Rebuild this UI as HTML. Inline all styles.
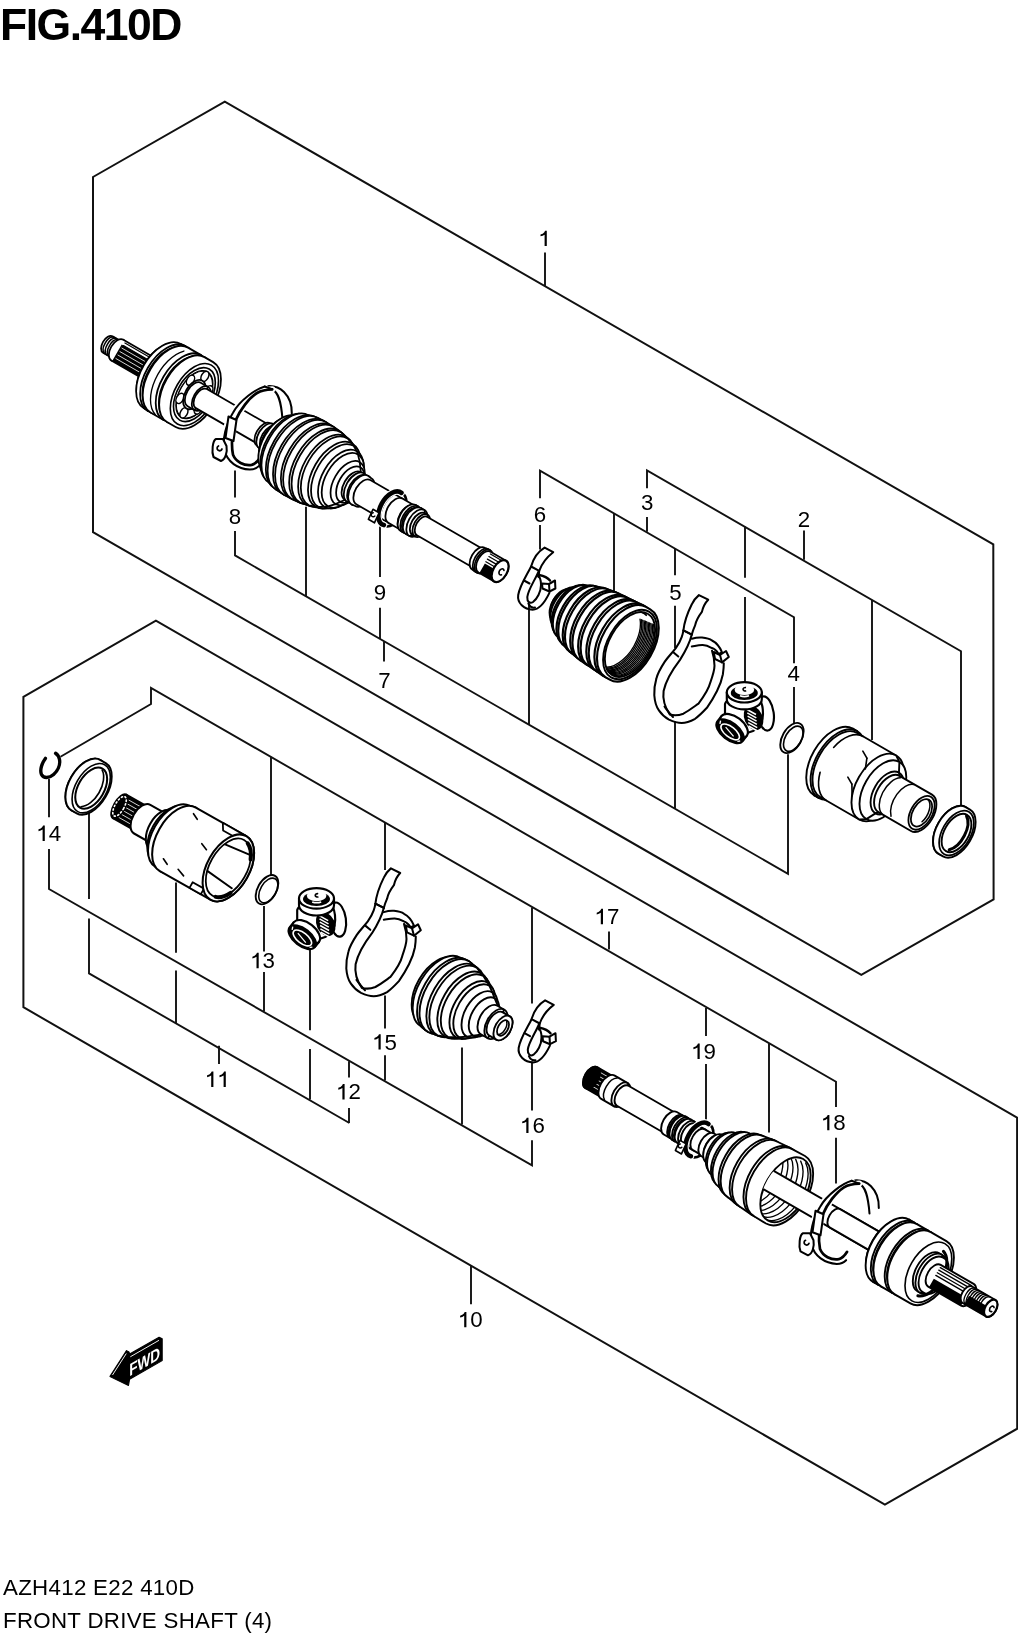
<!DOCTYPE html>
<html><head><meta charset="utf-8"><style>
html,body{margin:0;padding:0;background:#fff;}
body{width:1018px;height:1640px;overflow:hidden;position:relative;font-family:"Liberation Sans",sans-serif;}
svg{position:absolute;left:0;top:0;will-change:transform;}
.lb{font-family:"Liberation Sans",sans-serif;font-size:22.3px;text-anchor:middle;fill:#000;}
.ttl{will-change:transform;position:absolute;left:0px;top:3px;font-weight:bold;font-size:44.5px;line-height:1;letter-spacing:-1.5px;}
.ft{will-change:transform;position:absolute;left:3px;font-size:22.3px;line-height:1;letter-spacing:0.3px;}
</style></head><body>
<div class="ttl">FIG.410D</div>
<svg width="1018" height="1640" viewBox="0 0 1018 1640">
<polygon points="93.0,177.0 224.8,101.7 993.3,544.4 993.6,899.4 861.3,974.8 93.0,532.2" fill="none" stroke="#111" stroke-width="2.0" stroke-linejoin="miter"/>
<polygon points="23.4,696.8 155.9,620.6 1017.1,1117.6 1017.2,1428.7 884.9,1504.7 23.4,1007.2" fill="none" stroke="#111" stroke-width="2.0" stroke-linejoin="miter"/>
<polyline points="545.0,252.6 545.0,286.1" fill="none" stroke="#111" stroke-width="1.9"/>
<polyline points="540.0,498.3 540.0,470.7 794.0,617.3 794.0,663.3" fill="none" stroke="#111" stroke-width="1.9"/>
<polyline points="540.0,525.0 540.0,549.4" fill="none" stroke="#111" stroke-width="1.9"/>
<polyline points="794.0,686.9 794.0,724.3" fill="none" stroke="#111" stroke-width="1.9"/>
<polyline points="614.0,513.5 614.0,591.0" fill="none" stroke="#111" stroke-width="1.9"/>
<polyline points="675.0,548.3 675.0,575.2" fill="none" stroke="#111" stroke-width="1.9"/>
<polyline points="675.0,605.8 675.0,648.0" fill="none" stroke="#111" stroke-width="1.9"/>
<polyline points="647.0,488.3 647.0,470.4 961.0,651.3 961.0,808.7" fill="none" stroke="#111" stroke-width="1.9"/>
<polyline points="647.0,517.0 647.0,531.7" fill="none" stroke="#111" stroke-width="1.9"/>
<polyline points="804.0,530.5 804.0,559.8" fill="none" stroke="#111" stroke-width="1.9"/>
<polyline points="745.0,526.6 745.0,577.7" fill="none" stroke="#111" stroke-width="1.9"/>
<polyline points="745.0,596.9 745.0,683.7" fill="none" stroke="#111" stroke-width="1.9"/>
<polyline points="872.0,600.1 872.0,740.0" fill="none" stroke="#111" stroke-width="1.9"/>
<polyline points="235.0,470.6 235.0,497.4" fill="none" stroke="#111" stroke-width="1.9"/>
<polyline points="235.0,531.0 235.0,555.4 788.0,873.8 788.0,754.3" fill="none" stroke="#111" stroke-width="1.9"/>
<polyline points="384.0,641.4 384.0,661.4" fill="none" stroke="#111" stroke-width="1.9"/>
<polyline points="306.0,506.8 306.0,596.4" fill="none" stroke="#111" stroke-width="1.9"/>
<polyline points="380.0,523.0 380.0,577.0" fill="none" stroke="#111" stroke-width="1.9"/>
<polyline points="380.0,607.7 380.0,639.0" fill="none" stroke="#111" stroke-width="1.9"/>
<polyline points="529.0,605.0 529.0,724.6" fill="none" stroke="#111" stroke-width="1.9"/>
<polyline points="675.0,721.3 675.0,808.5" fill="none" stroke="#111" stroke-width="1.9"/>
<polyline points="60.5,756.8 151.0,704.0 151.0,688.0 836.0,1081.7 836.0,1107.0" fill="none" stroke="#111" stroke-width="1.9"/>
<polyline points="836.0,1137.7 836.0,1183.5" fill="none" stroke="#111" stroke-width="1.9"/>
<polyline points="271.0,756.8 271.0,875.8" fill="none" stroke="#111" stroke-width="1.9"/>
<polyline points="385.0,822.6 385.0,869.9" fill="none" stroke="#111" stroke-width="1.9"/>
<polyline points="532.0,907.6 532.0,1003.5" fill="none" stroke="#111" stroke-width="1.9"/>
<polyline points="609.0,949.4 609.0,931.5" fill="none" stroke="#111" stroke-width="1.9"/>
<polyline points="706.0,1007.9 706.0,1035.9" fill="none" stroke="#111" stroke-width="1.9"/>
<polyline points="706.0,1063.9 706.0,1122.4" fill="none" stroke="#111" stroke-width="1.9"/>
<polyline points="769.0,1043.5 769.0,1132.6" fill="none" stroke="#111" stroke-width="1.9"/>
<polyline points="49.0,778.8 49.0,817.3" fill="none" stroke="#111" stroke-width="1.9"/>
<polyline points="49.0,849.0 49.0,889.0 532.0,1165.4 532.0,1140.2" fill="none" stroke="#111" stroke-width="1.9"/>
<polyline points="532.0,1110.4 532.0,1061.6" fill="none" stroke="#111" stroke-width="1.9"/>
<polyline points="176.0,882.6 176.0,952.8" fill="none" stroke="#111" stroke-width="1.9"/>
<polyline points="176.0,970.6 176.0,1022.9" fill="none" stroke="#111" stroke-width="1.9"/>
<polyline points="264.0,906.0 264.0,951.6" fill="none" stroke="#111" stroke-width="1.9"/>
<polyline points="264.0,972.0 264.0,1011.5" fill="none" stroke="#111" stroke-width="1.9"/>
<polyline points="349.0,1061.2 349.0,1077.5" fill="none" stroke="#111" stroke-width="1.9"/>
<polyline points="349.0,1108.0 349.0,1123.0" fill="none" stroke="#111" stroke-width="1.9"/>
<polyline points="385.0,995.6 385.0,1028.6" fill="none" stroke="#111" stroke-width="1.9"/>
<polyline points="385.0,1055.3 385.0,1080.5" fill="none" stroke="#111" stroke-width="1.9"/>
<polyline points="462.0,1047.5 462.0,1124.5" fill="none" stroke="#111" stroke-width="1.9"/>
<polyline points="89.0,813.0 89.0,899.0" fill="none" stroke="#111" stroke-width="1.9"/>
<polyline points="89.0,918.4 89.0,973.4 349.4,1123.0" fill="none" stroke="#111" stroke-width="1.9"/>
<polyline points="219.0,1045.7 219.0,1064.0" fill="none" stroke="#111" stroke-width="1.9"/>
<polyline points="310.0,948.5 310.0,1030.2" fill="none" stroke="#111" stroke-width="1.9"/>
<polyline points="310.0,1049.0 310.0,1099.4" fill="none" stroke="#111" stroke-width="1.9"/>
<polyline points="471.0,1265.4 471.0,1304.3" fill="none" stroke="#111" stroke-width="1.9"/>
<polygon points="544.60,246.12 546.80,246.12 546.80,230.77 545.10,230.77 544.30,232.27 542.70,233.67 540.50,234.57 540.50,236.37 542.70,235.77 544.60,234.67" fill="#000"/>
<text x="803.90" y="526.62" class="lb">2</text>
<text x="647.30" y="510.22" class="lb">3</text>
<text x="793.70" y="681.42" class="lb">4</text>
<text x="675.40" y="600.42" class="lb">5</text>
<text x="540.00" y="521.52" class="lb">6</text>
<text x="384.40" y="687.92" class="lb">7</text>
<text x="235.00" y="523.72" class="lb">8</text>
<text x="380.00" y="600.22" class="lb">9</text>
<polygon points="464.20,1327.32 466.40,1327.32 466.40,1311.97 464.70,1311.97 463.90,1313.47 462.30,1314.87 460.10,1315.77 460.10,1317.57 462.30,1316.97 464.20,1315.87" fill="#000"/>
<text x="476.50" y="1327.32" class="lb">0</text>
<polygon points="211.20,1086.92 213.40,1086.92 213.40,1071.57 211.70,1071.57 210.90,1073.07 209.30,1074.47 207.10,1075.37 207.10,1077.17 209.30,1076.57 211.20,1075.47" fill="#000"/>
<polygon points="223.60,1086.92 225.80,1086.92 225.80,1071.57 224.10,1071.57 223.30,1073.07 221.70,1074.47 219.50,1075.37 219.50,1077.17 221.70,1076.57 223.60,1075.47" fill="#000"/>
<polygon points="342.40,1099.42 344.60,1099.42 344.60,1084.07 342.90,1084.07 342.10,1085.57 340.50,1086.97 338.30,1087.87 338.30,1089.67 340.50,1089.07 342.40,1087.97" fill="#000"/>
<text x="354.70" y="1099.42" class="lb">2</text>
<polygon points="256.50,968.22 258.70,968.22 258.70,952.87 257.00,952.87 256.20,954.37 254.60,955.77 252.40,956.67 252.40,958.47 254.60,957.87 256.50,956.77" fill="#000"/>
<text x="268.80" y="968.22" class="lb">3</text>
<polygon points="42.60,840.92 44.80,840.92 44.80,825.57 43.10,825.57 42.30,827.07 40.70,828.47 38.50,829.37 38.50,831.17 40.70,830.57 42.60,829.47" fill="#000"/>
<text x="54.90" y="840.92" class="lb">4</text>
<polygon points="378.50,1049.52 380.70,1049.52 380.70,1034.17 379.00,1034.17 378.20,1035.67 376.60,1037.07 374.40,1037.97 374.40,1039.77 376.60,1039.17 378.50,1038.07" fill="#000"/>
<text x="390.80" y="1049.52" class="lb">5</text>
<polygon points="526.30,1133.12 528.50,1133.12 528.50,1117.77 526.80,1117.77 526.00,1119.27 524.40,1120.67 522.20,1121.57 522.20,1123.37 524.40,1122.77 526.30,1121.67" fill="#000"/>
<text x="538.60" y="1133.12" class="lb">6</text>
<polygon points="600.80,924.22 603.00,924.22 603.00,908.87 601.30,908.87 600.50,910.37 598.90,911.77 596.70,912.67 596.70,914.47 598.90,913.87 600.80,912.77" fill="#000"/>
<text x="613.10" y="924.22" class="lb">7</text>
<polygon points="827.20,1130.32 829.40,1130.32 829.40,1114.97 827.70,1114.97 826.90,1116.47 825.30,1117.87 823.10,1118.77 823.10,1120.57 825.30,1119.97 827.20,1118.87" fill="#000"/>
<text x="839.50" y="1130.32" class="lb">8</text>
<polygon points="697.50,1058.92 699.70,1058.92 699.70,1043.57 698.00,1043.57 697.20,1045.07 695.60,1046.47 693.40,1047.37 693.40,1049.17 695.60,1048.57 697.50,1047.47" fill="#000"/>
<text x="709.80" y="1058.92" class="lb">9</text>
<g transform="translate(194.4,394.6) rotate(30)" stroke-width="1.76" stroke-linejoin="round" stroke-linecap="round">
<path d="M-100,-9.5A5.51,9.5 0 0 0 -100,9.5L-89,9.5A5.51,9.5 0 0 0 -89,-9.5Z" fill="#fff" stroke="#000"/>
<path d="M-98.46,-9.36 A5.51,9.5 0 0 0 -98.46,9.36" fill="none" stroke="#000" stroke-width="1.49"/>
<path d="M-95.96,-9.36 A5.51,9.5 0 0 0 -95.96,9.36" fill="none" stroke="#000" stroke-width="1.49"/>
<path d="M-93.46,-9.36 A5.51,9.5 0 0 0 -93.46,9.36" fill="none" stroke="#000" stroke-width="1.49"/>
<path d="M-89,-9.5A5.51,9.5 0 0 0 -89,9.5L-89,12A6.96,12 0 0 0 -89,-12Z" fill="#fff" stroke="#000"/>
<path d="M-89,-12A6.96,12 0 0 0 -89,12L-40,12A6.96,12 0 0 0 -40,-12Z" fill="#fff" stroke="#000"/>
<path d="M-88,-7 L-40,-7 L-40,12 L-88,12Z" fill="#000"/>
<path d="M-86,-4 L-42,-4" stroke="#fff" fill="none" stroke-width="0.74"/>
<path d="M-86,0 L-42,0" stroke="#fff" fill="none" stroke-width="0.74"/>
<path d="M-86,4 L-42,4" stroke="#fff" fill="none" stroke-width="0.74"/>
<path d="M-86,8 L-42,8" stroke="#fff" fill="none" stroke-width="0.74"/>
<path d="M-86,-10 L-42,-10" stroke="#000" fill="none" stroke-width="1.22"/>
<path d="M-86,-7 L-42,-7" stroke="#000" fill="none" stroke-width="1.22"/>
<path d="M-41,-28A16.24,28 0 0 0 -41,28L-39,34A19.72,34 0 0 0 -39,-34Z" fill="#fff" stroke="#000"/>
<path d="M-39,-34A19.72,34 0 0 0 -39,34L-37,37A21.46,37 0 0 0 -37,-37Z" fill="#fff" stroke="#000"/>
<path d="M-37,-37A21.46,37 0 0 0 -37,37L-32,37.5A21.75,37.5 0 0 0 -32,-37.5Z" fill="#fff" stroke="#000"/>
<path d="M-32,-37.5A21.75,37.5 0 0 0 -32,37.5L-31,35.5A20.59,35.5 0 0 0 -31,-35.5Z" fill="#fff" stroke="#000"/>
<path d="M-31,-35.5A20.59,35.5 0 0 0 -31,35.5L-29,37.5A21.75,37.5 0 0 0 -29,-37.5Z" fill="#fff" stroke="#000"/>
<path d="M-29,-37.5A21.75,37.5 0 0 0 -29,37.5L-14,37.5A21.75,37.5 0 0 0 -14,-37.5Z" fill="#fff" stroke="#000"/>
<path d="M-14,-37.5A21.75,37.5 0 0 0 -14,37.5L-12,35.5A20.59,35.5 0 0 0 -12,-35.5Z" fill="#fff" stroke="#000"/>
<path d="M-12,-35.5A20.59,35.5 0 0 0 -12,35.5L-10,37.5A21.75,37.5 0 0 0 -10,-37.5Z" fill="#fff" stroke="#000"/>
<path d="M-10,-37.5A21.75,37.5 0 0 0 -10,37.5L0,37.5A21.75,37.5 0 0 0 0,-37.5Z" fill="#fff" stroke="#000"/>
<path d="M-30.88,-32.48 A21.75,37.5 0 0 0 -23.78,36.93" fill="none" stroke="#000" stroke-width="1.35"/>
<ellipse cx="0" cy="0" rx="19.72" ry="34" fill="none" stroke="#000" stroke-width="1.62" />
<ellipse cx="0" cy="0" rx="17.11" ry="29.5" fill="none" stroke="#000" stroke-width="1.62" />
<ellipse cx="0" cy="0" rx="15.66" ry="27" fill="#000"/>
<ellipse cx="0" cy="0" rx="14.79" ry="25.5" fill="#fff" stroke="#000" stroke-width="1.08" />
<ellipse cx="-10.55" cy="10.5" rx="3.5" ry="5.5" fill="#fff" stroke="#000" stroke-width="1.49"/>
<ellipse cx="0" cy="21" rx="3.5" ry="5.5" fill="#fff" stroke="#000" stroke-width="1.49"/>
<ellipse cx="10.55" cy="10.5" rx="3.5" ry="5.5" fill="#fff" stroke="#000" stroke-width="1.49"/>
<ellipse cx="10.55" cy="-10.5" rx="3.5" ry="5.5" fill="#fff" stroke="#000" stroke-width="1.49"/>
<ellipse cx="0" cy="-21" rx="3.5" ry="5.5" fill="#fff" stroke="#000" stroke-width="1.49"/>
<ellipse cx="-10.55" cy="-10.5" rx="3.5" ry="5.5" fill="#fff" stroke="#000" stroke-width="1.49"/>
<ellipse cx="0" cy="0" rx="9.28" ry="16" fill="#fff" stroke="#000" />
<path d="M0,-13.5A7.83,13.5 0 0 0 0,13.5L8,13.5A7.83,13.5 0 0 0 8,-13.5Z" fill="#fff" stroke="#000"/>
<path d="M8,-13.5A7.83,13.5 0 0 0 8,13.5L8,11A6.38,11 0 0 0 8,-11Z" fill="#fff" stroke="#000"/>
<path d="M8,-11A6.38,11 0 0 0 8,11L86,11A6.38,11 0 0 0 86,-11Z" fill="#fff" stroke="#000"/>
</g><g transform="translate(0,0)" fill="none" stroke="#000" stroke-width="2.03" stroke-linejoin="round" stroke-linecap="round">
<path d="M264.7,386.5 C272,385 279,387 284,392 C290,398 292,405 291.8,413.6"/>
<path d="M272.2,389.3 C278,392 281,400 282.5,419.2"/>
<path d="M264.7,386.5 C256,389 240,400 233,412.7 C226,424 222,440 224.5,450 C227,462 238,469 249.8,469.6 C254,469.5 257,468 259.1,465.9" stroke="#fff" stroke-width="6.08"/>
<path d="M272.2,389.3 C267,389.5 262,390 257,393 C249,398 240,410 235.8,420.1 C232,430 231,445 233,454.7 C236,462 244,466 251.7,464.9 C255,464 258,461 260.1,457.5" stroke="#fff" stroke-width="6.08"/>
<path d="M264.7,386.5 C256,389 240,400 233,412.7 C226,424 222,440 224.5,450 C227,462 238,469 249.8,469.6 C254,469.5 257,468 259.1,465.9"/>
<path d="M272.2,389.3 C267,389.5 262,390 257,393 C249,398 240,410 235.8,420.1 C232,430 231,445 233,454.7 C236,462 244,466 251.7,464.9 C255,464 258,461 260.1,457.5" stroke-width="2.70"/>
<path d="M264.7,386.5 L272.2,389.3"/>
<path d="M228.5,416.5 L236.5,420 L233.5,441 L225.5,438 Z" fill="#fff"/>
<path d="M216,439 C212.5,440.5 211.5,452 213.5,457 L221,461 C225.5,459.5 227.5,452 226.5,446 L223,439 Z" fill="#fff"/>
<path d="M218.5,446 A2.5,2.5 0 1 0 222,449" stroke-width="1.76"/>
</g><g transform="translate(194.4,394.6) rotate(30)" stroke-width="1.76" stroke-linejoin="round" stroke-linecap="round">
<path d="M80,-13A7.54,13 0 0 0 80,13L83,14A8.12,14 0 0 0 83,-14Z" fill="#fff" stroke="#000"/>
<path d="M83,-14A8.12,14 0 0 0 83,14L87,14A8.12,14 0 0 0 87,-14Z" fill="#fff" stroke="#000"/>
<path d="M87,-14A8.12,14 0 0 0 87,14L88,12.5A7.25,12.5 0 0 0 88,-12.5Z" fill="#fff" stroke="#000"/>
<path d="M88,-12.5A7.25,12.5 0 0 0 88,12.5L90,14A8.12,14 0 0 0 90,-14Z" fill="#fff" stroke="#000"/>
<path d="M90,-14A8.12,14 0 0 0 90,14L93,14A8.12,14 0 0 0 93,-14Z" fill="#fff" stroke="#000"/>
<path d="M93,-14A8.12,14 0 0 0 93,14L95,24A13.92,24 0 0 0 95,-24Z" fill="#fff" stroke="#000"/>
<path d="M95,-24A13.92,24 0 0 0 95,24L98,29.25A16.96,29.25 0 0 0 98,-29.25Z" fill="#fff" stroke="#000"/>
<path d="M98,-29.25A16.96,29.25 0 0 0 98,29.25L100.5,32.5A18.85,32.5 0 0 0 100.5,-32.5Z" fill="#fff" stroke="#000"/>
<path d="M100.5,-32.5A18.85,32.5 0 0 0 100.5,32.5L107,37.75A21.89,37.75 0 0 0 107,-37.75Z" fill="#fff" stroke="#000"/>
<path d="M107,-37.75A21.89,37.75 0 0 0 107,37.75L109.5,39.21A22.74,39.21 0 0 0 109.5,-39.21Z" fill="#fff" stroke="#000"/>
<path d="M109.5,-39.21A22.74,39.21 0 0 0 109.5,39.21L116,41A23.78,41 0 0 0 116,-41Z" fill="#fff" stroke="#000"/>
<path d="M116,-41A23.78,41 0 0 0 116,41L118.5,41.52A24.08,41.52 0 0 0 118.5,-41.52Z" fill="#fff" stroke="#000"/>
<path d="M118.5,-41.52A24.08,41.52 0 0 0 118.5,41.52L125,41.85A24.27,41.85 0 0 0 125,-41.85Z" fill="#fff" stroke="#000"/>
<path d="M125,-41.85A24.27,41.85 0 0 0 125,41.85L127.5,41.98A24.35,41.98 0 0 0 127.5,-41.98Z" fill="#fff" stroke="#000"/>
<path d="M127.5,-41.98A24.35,41.98 0 0 0 127.5,41.98L134,41.75A24.21,41.75 0 0 0 134,-41.75Z" fill="#fff" stroke="#000"/>
<path d="M134,-41.75A24.21,41.75 0 0 0 134,41.75L136.5,41.65A24.15,41.65 0 0 0 136.5,-41.65Z" fill="#fff" stroke="#000"/>
<path d="M136.5,-41.65A24.15,41.65 0 0 0 136.5,41.65L143,41.05A23.81,41.05 0 0 0 143,-41.05Z" fill="#fff" stroke="#000"/>
<path d="M143,-41.05A23.81,41.05 0 0 0 143,41.05L145.5,40.67A23.59,40.67 0 0 0 145.5,-40.67Z" fill="#fff" stroke="#000"/>
<path d="M145.5,-40.67A23.59,40.67 0 0 0 145.5,40.67L152,39.4A22.85,39.4 0 0 0 152,-39.4Z" fill="#fff" stroke="#000"/>
<path d="M152,-39.4A22.85,39.4 0 0 0 152,39.4L154.5,38.65A22.42,38.65 0 0 0 154.5,-38.65Z" fill="#fff" stroke="#000"/>
<path d="M154.5,-38.65A22.42,38.65 0 0 0 154.5,38.65L161,36.5A21.17,36.5 0 0 0 161,-36.5Z" fill="#fff" stroke="#000"/>
<path d="M161,-36.5A21.17,36.5 0 0 0 161,36.5L163.5,35.25A20.45,35.25 0 0 0 163.5,-35.25Z" fill="#fff" stroke="#000"/>
<path d="M163.5,-35.25A20.45,35.25 0 0 0 163.5,35.25L169,32.14A18.64,32.14 0 0 0 169,-32.14Z" fill="#fff" stroke="#000"/>
<path d="M169,-32.14A18.64,32.14 0 0 0 169,32.14L171.5,30A17.4,30 0 0 0 171.5,-30Z" fill="#fff" stroke="#000"/>
<path d="M171.5,-30A17.4,30 0 0 0 171.5,30L177,24.2A14.04,24.2 0 0 0 177,-24.2Z" fill="#fff" stroke="#000"/>
<path d="M177,-24.2A14.04,24.2 0 0 0 177,24.2L180,20A11.6,20 0 0 0 180,-20Z" fill="#fff" stroke="#000"/>
<path d="M180,-20A11.6,20 0 0 0 180,20L183,16A9.28,16 0 0 0 183,-16Z" fill="#fff" stroke="#000"/>
<path d="M183,-16A9.28,16 0 0 0 183,16L186,16.5A9.57,16.5 0 0 0 186,-16.5Z" fill="#fff" stroke="#000"/>
<path d="M186,-16.5A9.57,16.5 0 0 0 186,16.5L189,15.5A8.99,15.5 0 0 0 189,-15.5Z" fill="#fff" stroke="#000"/>
<path d="M189,-15.5A8.99,15.5 0 0 0 189,15.5L191,16.5A9.57,16.5 0 0 0 191,-16.5Z" fill="#fff" stroke="#000"/>
<path d="M191,-16.5A9.57,16.5 0 0 0 191,16.5L195,16A9.28,16 0 0 0 195,-16Z" fill="#fff" stroke="#000"/>
<path d="M195,-14A8.12,14 0 0 0 195,14L232,14A8.12,14 0 0 0 232,-14Z" fill="#fff" stroke="#000"/>
<ellipse cx="229.5" cy="0" rx="10.73" ry="18.5" fill="none" stroke="#000" stroke-width="2.70" />
<path d="M232,-14A8.12,14 0 0 0 232,14L246,14A8.12,14 0 0 0 246,-14Z" fill="#fff" stroke="#000"/>
<path d="M246,-14A8.12,14 0 0 0 246,14L247,15A8.7,15 0 0 0 247,-15Z" fill="#fff" stroke="#000"/>
<path d="M247,-15A8.7,15 0 0 0 247,15L250,15A8.7,15 0 0 0 250,-15Z" fill="#fff" stroke="#000"/>
<path d="M250,-15A8.7,15 0 0 0 250,15L251,14A8.12,14 0 0 0 251,-14Z" fill="#fff" stroke="#000"/>
<path d="M251,-14A8.12,14 0 0 0 251,14L253,15A8.7,15 0 0 0 253,-15Z" fill="#fff" stroke="#000"/>
<path d="M253,-15A8.7,15 0 0 0 253,15L257,15A8.7,15 0 0 0 257,-15Z" fill="#fff" stroke="#000"/>
<path d="M257,-15A8.7,15 0 0 0 257,15L259,12.5A7.25,12.5 0 0 0 259,-12.5Z" fill="#fff" stroke="#000"/>
<path d="M259,-12.5A7.25,12.5 0 0 0 259,12.5L262,12.5A7.25,12.5 0 0 0 262,-12.5Z" fill="#fff" stroke="#000"/>
<path d="M262,-12.5A7.25,12.5 0 0 0 262,12.5L263,10.5A6.09,10.5 0 0 0 263,-10.5Z" fill="#fff" stroke="#000"/>
<path d="M263,-10.5A6.09,10.5 0 0 0 263,10.5L328,10.5A6.09,10.5 0 0 0 328,-10.5Z" fill="#fff" stroke="#000"/>
<path d="M228.44,-18.43 A10.73,18.5 0 1 0 229.36,18.22" fill="none" stroke="#fff" stroke-width="6.75"/>
<path d="M228.44,-18.43 A10.73,18.5 0 1 0 229.36,18.22" fill="none" stroke="#000" stroke-width="4.59"/>
<path d="M212,10 L219,10 L220,21 L213,21Z" fill="#fff" stroke="#000" stroke-width="1.62"/>
<path d="M214,13 A2,2 0 1 0 217,15" fill="none" stroke="#000" stroke-width="1.49"/>
<path d="M328,-12.5A7.25,12.5 0 0 0 328,12.5L332,13A7.54,13 0 0 0 332,-13Z" fill="#fff" stroke="#000"/>
<path d="M332,-13A7.54,13 0 0 0 332,13L334,13A7.54,13 0 0 0 334,-13Z" fill="#fff" stroke="#000"/>
<path d="M334,-13A7.54,13 0 0 0 334,13L335,12A6.96,12 0 0 0 335,-12Z" fill="#fff" stroke="#000"/>
<path d="M335,-12A6.96,12 0 0 0 335,12L353,12A6.96,12 0 0 0 353,-12Z" fill="#fff" stroke="#000"/>
<path d="M336,1 L352,1 L352,12 L336,12Z" fill="#000"/>
<path d="M336,-10 L352,-10" stroke="#000" fill="none" stroke-width="1.22"/>
<path d="M336,-7 L352,-7" stroke="#000" fill="none" stroke-width="1.22"/>
<path d="M336,-4 L352,-4" stroke="#000" fill="none" stroke-width="1.22"/>
<path d="M336,-1 L352,-1" stroke="#000" fill="none" stroke-width="1.22"/>
<ellipse cx="353" cy="0" rx="6.96" ry="12" fill="#fff" stroke="#000" stroke-width="2.16" />
<path d="M356,-2.5 A2.2,3.3 0 1 0 356,2.5" fill="none" stroke="#000" stroke-width="1.62"/>
</g><g transform="translate(0,0)" fill="none" stroke="#000" stroke-width="2.03" stroke-linejoin="round" stroke-linecap="round">
<path d="M538.6,571.3 C535,580 528,590 527.3,597 C527,602 530,604 533,602 C537,599 541,592 541,585 C541,580 540,577 538.1,576"/>
<path d="M531.1,566.5 C527,575 520,585 518.2,595 C517,603 524,609.5 532.7,609.7 C540,609.5 546,600 549.4,592.9"/>
<path d="M528.4,603.5 C530,607 533,608 535,607.5"/>
<path d="M524,580.5 L529.5,583.5"/>
<path d="M531.1,566.5 C533.5,558 538,551.5 544.6,547.6 L553.2,552.2 C547,557 542,563 539.2,570.8 Z" fill="#fff"/>
<path d="M539.2,570.8 L538.6,577"/>
<path d="M539,575 C544,576 548,578 550,580.5" stroke-width="2.43"/>
<path d="M542,583.5 L549,584 L555,580.5 L555.4,588.5 L549.5,591.5 L542.5,588.5 Z" fill="#fff"/>
<path d="M549,584 L549.5,591.5"/>
</g>
<g transform="translate(630,644.5) rotate(30)" stroke-width="1.89" stroke-linejoin="round" stroke-linecap="round">
<path d="M-84,-4A2.32,4 0 0 0 -84,4L-82,11A6.38,11 0 0 0 -82,-11Z" fill="#fff" stroke="#000" stroke-width="2.16"/>
<path d="M-82,-11A6.38,11 0 0 0 -82,11L-78,18A10.44,18 0 0 0 -78,-18Z" fill="#fff" stroke="#000" stroke-width="2.16"/>
<path d="M-78,-18A10.44,18 0 0 0 -78,18L-74,22A12.76,22 0 0 0 -74,-22Z" fill="#fff" stroke="#000" stroke-width="2.16"/>
<path d="M-74,-22A12.76,22 0 0 0 -74,22L-68,27.43A15.91,27.43 0 0 0 -68,-27.43Z" fill="#fff" stroke="#000" stroke-width="2.16"/>
<path d="M-68,-27.43A15.91,27.43 0 0 0 -68,27.43L-65,29.57A17.15,29.57 0 0 0 -65,-29.57Z" fill="#fff" stroke="#000" stroke-width="2.16"/>
<path d="M-65,-29.57A17.15,29.57 0 0 0 -65,29.57L-58,32.92A19.1,32.92 0 0 0 -58,-32.92Z" fill="#fff" stroke="#000" stroke-width="2.16"/>
<path d="M-58,-32.92A19.1,32.92 0 0 0 -58,32.92L-55,34.08A19.76,34.08 0 0 0 -55,-34.08Z" fill="#fff" stroke="#000" stroke-width="2.16"/>
<path d="M-55,-34.08A19.76,34.08 0 0 0 -55,34.08L-48,36.33A21.07,36.33 0 0 0 -48,-36.33Z" fill="#fff" stroke="#000" stroke-width="2.16"/>
<path d="M-48,-36.33A21.07,36.33 0 0 0 -48,36.33L-45,36.83A21.36,36.83 0 0 0 -45,-36.83Z" fill="#fff" stroke="#000" stroke-width="2.16"/>
<path d="M-45,-36.83A21.36,36.83 0 0 0 -45,36.83L-38,38A22.04,38 0 0 0 -38,-38Z" fill="#fff" stroke="#000" stroke-width="2.16"/>
<path d="M-38,-38A22.04,38 0 0 0 -38,38L-35,38.5A22.33,38.5 0 0 0 -35,-38.5Z" fill="#fff" stroke="#000" stroke-width="2.16"/>
<path d="M-35,-38.5A22.33,38.5 0 0 0 -35,38.5L-28,38.97A22.6,38.97 0 0 0 -28,-38.97Z" fill="#fff" stroke="#000" stroke-width="2.16"/>
<path d="M-28,-38.97A22.6,38.97 0 0 0 -28,38.97L-25,39.17A22.72,39.17 0 0 0 -25,-39.17Z" fill="#fff" stroke="#000" stroke-width="2.16"/>
<path d="M-25,-39.17A22.72,39.17 0 0 0 -25,39.17L-18,39.67A23.01,39.67 0 0 0 -18,-39.67Z" fill="#fff" stroke="#000" stroke-width="2.16"/>
<path d="M-18,-39.67A23.01,39.67 0 0 0 -18,39.67L-15,39.92A23.15,39.92 0 0 0 -15,-39.92Z" fill="#fff" stroke="#000" stroke-width="2.16"/>
<path d="M-15,-39.92A23.15,39.92 0 0 0 -15,39.92L-8,40.5A23.49,40.5 0 0 0 -8,-40.5Z" fill="#fff" stroke="#000" stroke-width="2.16"/>
<path d="M-8,-40.5A23.49,40.5 0 0 0 -8,40.5L-5,40.5A23.49,40.5 0 0 0 -5,-40.5Z" fill="#fff" stroke="#000" stroke-width="2.16"/>
<path d="M-5,-40.5A23.49,40.5 0 0 0 -5,40.5L0,40.5A23.49,40.5 0 0 0 0,-40.5Z" fill="#fff" stroke="#000" stroke-width="2.16"/>
<ellipse cx="0" cy="0" rx="22.04" ry="38" fill="#fff" stroke="#000" stroke-width="1.89" />
<ellipse cx="0" cy="0" rx="20.59" ry="35.5" fill="#fff" stroke="#000" stroke-width="1.89" />
<clipPath id="bc"><ellipse cx="0" cy="0" rx="20.59" ry="35.5"/></clipPath>
<g clip-path="url(#bc)"><path d="M10.31,-29.08 A20.59,35.5 0 0 1 -10.2,32.17" fill="none" stroke="#000" stroke-width="1.35"/><path d="M8.88,-28.88 A20.45,35.25 0 0 1 -11.49,31.95" fill="none" stroke="#000" stroke-width="1.35"/><path d="M7.44,-28.67 A20.3,35 0 0 1 -12.78,31.72" fill="none" stroke="#000" stroke-width="1.35"/><path d="M6.01,-28.47 A20.15,34.75 0 0 1 -14.07,31.49" fill="none" stroke="#000" stroke-width="1.35"/><path d="M4.58,-28.26 A20.01,34.5 0 0 1 -15.36,31.27" fill="none" stroke="#000" stroke-width="1.35"/><path d="M3.14,-28.06 A19.86,34.25 0 0 1 -16.65,31.04" fill="none" stroke="#000" stroke-width="1.35"/><path d="M1.71,-27.85 A19.72,34 0 0 1 -17.93,30.81" fill="none" stroke="#000" stroke-width="1.35"/><path d="M0.28,-27.65 A19.57,33.75 0 0 1 -19.22,30.59" fill="none" stroke="#000" stroke-width="1.35"/><path d="M-1.16,-27.44 A19.43,33.5 0 0 1 -20.51,30.36" fill="none" stroke="#000" stroke-width="1.35"/><path d="M-2.59,-27.24 A19.29,33.25 0 0 1 -21.8,30.13" fill="none" stroke="#000" stroke-width="1.35"/><path d="M-4.02,-27.03 A19.14,33 0 0 1 -23.09,29.91" fill="none" stroke="#000" stroke-width="1.35"/><path d="M-0.58,-33.48 A19.72,34 0 0 0 -10.74,31.95" fill="none" stroke="#000" stroke-width="1.76"/></g>
</g><g transform="translate(630,644.5) rotate(30)" stroke-width="1.89" stroke-linejoin="round" stroke-linecap="round">
<ellipse cx="187" cy="0" rx="9.57" ry="16.5" fill="none" stroke="#000" stroke-width="1.89" />
<ellipse cx="188.5" cy="0" rx="8" ry="13.8" fill="none" stroke="#000" stroke-width="1.62" />
<path d="M233,-33A19.14,33 0 0 0 233,33L235,38.5A22.33,38.5 0 0 0 235,-38.5Z" fill="#fff" stroke="#000"/>
<path d="M235,-38.5A22.33,38.5 0 0 0 235,38.5L240,38.5A22.33,38.5 0 0 0 240,-38.5Z" fill="#fff" stroke="#000"/>
<path d="M240,-38.5A22.33,38.5 0 0 0 240,38.5L241,37A21.46,37 0 0 0 241,-37Z" fill="#fff" stroke="#000"/>
<path d="M241,-37A21.46,37 0 0 0 241,37L286,37A21.46,37 0 0 0 286,-37Z" fill="#fff" stroke="#000"/>
<path d="M286,-37A21.46,37 0 0 0 286,37L292,33A19.14,33 0 0 0 292,-33Z" fill="#fff" stroke="#000"/>
<path d="M292,-33A19.14,33 0 0 0 292,33L297,23.5A13.63,23.5 0 0 0 297,-23.5Z" fill="#fff" stroke="#000"/>
<path d="M297,-23.5A13.63,23.5 0 0 0 297,23.5L299,21A12.18,21 0 0 0 299,-21Z" fill="#fff" stroke="#000"/>
<path d="M299,-21A12.18,21 0 0 0 299,21L336.6,21A12.18,21 0 0 0 336.6,-21Z" fill="#fff" stroke="#000"/>
<path d="M248,-37 A21.46,37 0 0 0 227.83,-12.65" fill="none" stroke="#000" stroke-width="1.62"/>
<path d="M228.55,15.64 A21.46,37 0 0 0 248,37" fill="none" stroke="#000" stroke-width="1.62"/>
<path d="M300.83,-19.73 A12.18,21 0 0 0 302.88,20.68" fill="none" stroke="#000" stroke-width="1.49"/>
<path d="M315.88,-20.68 A12.18,21 0 0 0 311.91,18.19" fill="none" stroke="#000" stroke-width="1.49"/>
<ellipse cx="336.6" cy="0" rx="10.73" ry="18.5" fill="none" stroke="#000" stroke-width="1.76" />
<ellipse cx="336.6" cy="0" rx="8.7" ry="15" fill="none" stroke="#000" stroke-width="1.76" />
<path d="M335.51,-14.77 A8.7,15 0 0 1 341.53,7.5" fill="none" stroke="#000" stroke-width="1.49"/>
<path d="M262,-20 L266,-10" stroke="#000" fill="none" stroke-width="1.62"/>
<path d="M262,-20 L255,-24" stroke="#000" fill="none" stroke-width="1.62"/>
<path d="M262,10 L268,20" stroke="#000" fill="none" stroke-width="1.62"/>
<path d="M262,10 L255,6" stroke="#000" fill="none" stroke-width="1.62"/>
<ellipse cx="372" cy="0" rx="15.66" ry="27" fill="none" stroke="#000" stroke-width="1.89" />
<path d="M372,-27A15.66,27 0 0 0 372,27L377,27A15.66,27 0 0 0 377,-27Z" fill="#fff" stroke="#000"/>
<ellipse cx="377" cy="0" rx="14.21" ry="24.5" fill="none" stroke="#000" stroke-width="1.76" />
<ellipse cx="377" cy="0" rx="12.18" ry="21" fill="#fff" stroke="#000" stroke-width="1.89" />
<path d="M377.17,-19.73 A12.18,21 0 0 1 379.09,18.19" fill="none" stroke="#000" stroke-width="2.97"/>
</g>
<g transform="translate(0,0)" fill="none" stroke="#000" stroke-width="2.03" stroke-linejoin="round" stroke-linecap="round">
<path d="M691.8,634.6 C690,642 685,652 680,659.9 C673,669 666,680 663.6,691 C662.5,699 664,706 669.9,714.6 C675,716 680,715 683.4,713.7 C690,710 695,706 698.5,703.6 C705,695 709,688 710.3,682.6 C713,675 714.5,670 714.5,665.8 C714.5,660 713.5,655 712,650.6"/>
<path d="M683.4,630.4 C683,633 682.5,635 681.7,637.1 C680,642 678,645 675.8,648.1 C672,653 668,657 664.8,661.6 C660,669 657.5,674 656.4,678.4 C654.5,685 654,690 654.3,695.2 C654.8,702 656.5,707 658.9,710.4 C662,715 665,717.5 669,719.6 C673,721.5 677,723 681.7,723 C687,723 691,721 695.1,718.8 C699,716 703,712 706.9,707.8 C711,702 714,697 717,691 C720,685 722,679 722.9,674.2 C723.5,670 723.8,667 723.8,663.2"/>
<path d="M664.5,706.5 C667,710 669,713 673,717"/>
<path d="M673.3,652.3 L678.3,656.5"/>
<path d="M691.8,638.8 C696,637.5 700,637.3 702,637.5 C707,638 710,639 712,640.5 C716,642.5 719,645 722,652.3 L718.7,654 C716,650 714,648.5 712,648.1 C708,646 705,645.2 702.7,645.1 C698,645 695,646 691.8,646.4"/>
<path d="M683.4,630.4 C684,625 686,616 691.8,604.3 C693.5,600.5 696,597.5 698.9,595.1 L708.2,599.7 C705,603 703,607 701.9,611.9 C698,617 696,621 695.1,625.4 C693.5,629 692.5,632 691.8,634.6 Z" fill="#fff"/>
<path d="M683.4,630.4 L691.8,634.6"/>
<path d="M713.7,652 L720,655 L726,651 L728.8,657 L722,662.4 L715,659 Z" fill="#fff"/>
<path d="M720,655 L722,662.4"/>
</g>
<g transform="translate(745,708) scale(1.0)" stroke="#000" stroke-width="2.16" fill="#fff" stroke-linejoin="round">
<ellipse cx="20.5" cy="5.5" rx="8.2" ry="17.2" transform="rotate(-8 20.5 5.5)"/>
<path d="M14,-10 L18,-9 L16,21 L12,20 Z" fill="#fff" stroke="none"/>
<path d="M-20,-4 C-19,-8 -14,-10 -8,-9 L14,-9 C17,-6 18,0 18,6 C18,14 14,20 8,23 L-4,27 C-10,26 -16,18 -20,10 Z"/>
<ellipse cx="8.5" cy="10" rx="8" ry="11.5" transform="rotate(-25 8.5 10)" fill="#000"/>
<path d="M2.0,1.5 l9,5" stroke="#fff" stroke-width="1.49"/>
<path d="M2.3,4.8 l9,5" stroke="#fff" stroke-width="1.49"/>
<path d="M2.6,8.1 l9,5" stroke="#fff" stroke-width="1.49"/>
<path d="M2.9,11.399999999999999 l9,5" stroke="#fff" stroke-width="1.49"/>
<path d="M3.2,14.7 l9,5" stroke="#fff" stroke-width="1.49"/>
<path d="M3.5,18.0 l9,5" stroke="#fff" stroke-width="1.49"/>
<path d="M-18.2,-15.7 L-18.2,-8.8 A17.5,10.2 0 0 0 16.8,-8.8 L16.8,-15.7 Z"/>
<ellipse cx="-0.7" cy="-15.7" rx="17.5" ry="10.2"/>
<ellipse cx="-0.7" cy="-15" rx="13.5" ry="7" fill="#000" stroke="none"/>
<ellipse cx="-0.6" cy="-18.3" rx="9.8" ry="5.4" fill="#fff" stroke="none"/>
<path d="M-5,-12.2 Q-0.6,-10.5 4,-12.2" stroke="#fff" stroke-width="1.62" fill="none"/>
<path d="M1,-20.4 A2.3,1.7 0 1 0 1.2,-17.2" fill="none" stroke-width="1.62"/>
<g transform="translate(-14,22) rotate(38)">
<path d="M-16,-5 L-16,0 A16,9 0 0 0 16,0 L16,-5 Z"/>
<ellipse cx="0" cy="-5" rx="16" ry="9"/>
<ellipse cx="0" cy="1.5" rx="16" ry="8.5" fill="#000"/>
<ellipse cx="0.5" cy="2" rx="11" ry="5.2" fill="none" stroke="#fff" stroke-width="1.62"/>
<path d="M-6,1 L6,3.5" stroke="#fff" stroke-width="1.22"/>
<path d="M-14,-1 L-12.5,2" stroke="#fff" stroke-width="1.35"/>
<path d="M12,5 L14,3" stroke="#fff" stroke-width="1.35"/>
</g>
</g><path d="M45.4,758.4 C42,763 39.5,770 41.5,774.5 C43.5,778.5 49,778.5 53.6,774.5 C57.5,771 60.5,765 59.5,759.5 C59,757 57.5,754.5 55.6,753.3" fill="none" stroke="#000" stroke-width="3.38" stroke-linecap="round"/>
<g transform="translate(-308,273.3)" fill="none" stroke="#000" stroke-width="2.03" stroke-linejoin="round" stroke-linecap="round">
<path d="M691.8,634.6 C690,642 685,652 680,659.9 C673,669 666,680 663.6,691 C662.5,699 664,706 669.9,714.6 C675,716 680,715 683.4,713.7 C690,710 695,706 698.5,703.6 C705,695 709,688 710.3,682.6 C713,675 714.5,670 714.5,665.8 C714.5,660 713.5,655 712,650.6"/>
<path d="M683.4,630.4 C683,633 682.5,635 681.7,637.1 C680,642 678,645 675.8,648.1 C672,653 668,657 664.8,661.6 C660,669 657.5,674 656.4,678.4 C654.5,685 654,690 654.3,695.2 C654.8,702 656.5,707 658.9,710.4 C662,715 665,717.5 669,719.6 C673,721.5 677,723 681.7,723 C687,723 691,721 695.1,718.8 C699,716 703,712 706.9,707.8 C711,702 714,697 717,691 C720,685 722,679 722.9,674.2 C723.5,670 723.8,667 723.8,663.2"/>
<path d="M664.5,706.5 C667,710 669,713 673,717"/>
<path d="M673.3,652.3 L678.3,656.5"/>
<path d="M691.8,638.8 C696,637.5 700,637.3 702,637.5 C707,638 710,639 712,640.5 C716,642.5 719,645 722,652.3 L718.7,654 C716,650 714,648.5 712,648.1 C708,646 705,645.2 702.7,645.1 C698,645 695,646 691.8,646.4"/>
<path d="M683.4,630.4 C684,625 686,616 691.8,604.3 C693.5,600.5 696,597.5 698.9,595.1 L708.2,599.7 C705,603 703,607 701.9,611.9 C698,617 696,621 695.1,625.4 C693.5,629 692.5,632 691.8,634.6 Z" fill="#fff"/>
<path d="M683.4,630.4 L691.8,634.6"/>
<path d="M713.7,652 L720,655 L726,651 L728.8,657 L722,662.4 L715,659 Z" fill="#fff"/>
<path d="M720,655 L722,662.4"/>
</g>
<g transform="translate(88.6,786.7) rotate(30)" stroke-width="1.89" stroke-linejoin="round" stroke-linecap="round">
<ellipse cx="-3" cy="0" rx="16.82" ry="29" fill="none" stroke="#000" stroke-width="2.03" />
<path d="M-3,-29A16.82,29 0 0 0 -3,29L3,29A16.82,29 0 0 0 3,-29Z" fill="#fff" stroke="#000"/>
<ellipse cx="3" cy="0" rx="15.66" ry="27" fill="none" stroke="#000" stroke-width="1.62" />
<ellipse cx="3" cy="0" rx="13.05" ry="22.5" fill="#fff" stroke="#000" stroke-width="2.03" />
<path d="M3.46,-21.14 A13.05,22.5 0 0 1 3.46,21.14" fill="none" stroke="#000" stroke-width="1.62"/>
<ellipse cx="206" cy="0" rx="9.28" ry="16" fill="none" stroke="#000" stroke-width="1.89" />
<ellipse cx="207.5" cy="0" rx="7.83" ry="13.5" fill="none" stroke="#000" stroke-width="1.62" />
</g>
<g transform="translate(503,1028) rotate(30)" stroke-width="1.89" stroke-linejoin="round" stroke-linecap="round">
<path d="M-78,-30A17.4,30 0 0 0 -78,30L-76,36A20.88,36 0 0 0 -76,-36Z" fill="#fff" stroke="#000"/>
<path d="M-76,-36A20.88,36 0 0 0 -76,36L-72,39.5A22.91,39.5 0 0 0 -72,-39.5Z" fill="#fff" stroke="#000"/>
<path d="M-72,-39.5A22.91,39.5 0 0 0 -72,39.5L-66,40.62A23.56,40.62 0 0 0 -66,-40.62Z" fill="#fff" stroke="#000"/>
<path d="M-66,-40.62A23.56,40.62 0 0 0 -66,40.62L-63,40.83A23.68,40.83 0 0 0 -63,-40.83Z" fill="#fff" stroke="#000"/>
<path d="M-63,-40.83A23.68,40.83 0 0 0 -63,40.83L-56,39.67A23.01,39.67 0 0 0 -56,-39.67Z" fill="#fff" stroke="#000"/>
<path d="M-56,-39.67A23.01,39.67 0 0 0 -56,39.67L-53,39.17A22.72,39.17 0 0 0 -53,-39.17Z" fill="#fff" stroke="#000"/>
<path d="M-53,-39.17A22.72,39.17 0 0 0 -53,39.17L-46,36.5A21.17,36.5 0 0 0 -46,-36.5Z" fill="#fff" stroke="#000"/>
<path d="M-46,-36.5A21.17,36.5 0 0 0 -46,36.5L-43,35.25A20.45,35.25 0 0 0 -43,-35.25Z" fill="#fff" stroke="#000"/>
<path d="M-43,-35.25A20.45,35.25 0 0 0 -43,35.25L-36,31.6A18.33,31.6 0 0 0 -36,-31.6Z" fill="#fff" stroke="#000"/>
<path d="M-36,-31.6A18.33,31.6 0 0 0 -36,31.6L-33,29.8A17.28,29.8 0 0 0 -33,-29.8Z" fill="#fff" stroke="#000"/>
<path d="M-33,-29.8A17.28,29.8 0 0 0 -33,29.8L-27,25.56A14.83,25.56 0 0 0 -27,-25.56Z" fill="#fff" stroke="#000"/>
<path d="M-27,-25.56A14.83,25.56 0 0 0 -27,25.56L-22,21.5A12.47,21.5 0 0 0 -22,-21.5Z" fill="#fff" stroke="#000"/>
<path d="M-22,-21.5A12.47,21.5 0 0 0 -22,21.5L-16,17A9.86,17 0 0 0 -16,-17Z" fill="#fff" stroke="#000"/>
<path d="M-16,-16.5A9.57,16.5 0 0 0 -16,16.5L-8,16.5A9.57,16.5 0 0 0 -8,-16.5Z" fill="#fff" stroke="#000"/>
<path d="M-8,-16.5A9.57,16.5 0 0 0 -8,16.5L-8,13.5A7.83,13.5 0 0 0 -8,-13.5Z" fill="#fff" stroke="#000"/>
<path d="M-8,-13.5A7.83,13.5 0 0 0 -8,13.5L0,13.5A7.83,13.5 0 0 0 0,-13.5Z" fill="#fff" stroke="#000"/>
<ellipse cx="0" cy="0" rx="7.83" ry="13.5" fill="#fff" stroke="#000" stroke-width="1.89" />
<ellipse cx="0" cy="0" rx="4.93" ry="8.5" fill="#fff" stroke="#000" stroke-width="1.76" />
<path d="M-0.03,-7.36 A4.93,8.5 0 0 1 -1.64,8.37" fill="none" stroke="#000" stroke-width="1.49"/>
</g>
<g transform="translate(0.5,452.7)" fill="none" stroke="#000" stroke-width="2.03" stroke-linejoin="round" stroke-linecap="round">
<path d="M538.6,571.3 C535,580 528,590 527.3,597 C527,602 530,604 533,602 C537,599 541,592 541,585 C541,580 540,577 538.1,576"/>
<path d="M531.1,566.5 C527,575 520,585 518.2,595 C517,603 524,609.5 532.7,609.7 C540,609.5 546,600 549.4,592.9"/>
<path d="M528.4,603.5 C530,607 533,608 535,607.5"/>
<path d="M524,580.5 L529.5,583.5"/>
<path d="M531.1,566.5 C533.5,558 538,551.5 544.6,547.6 L553.2,552.2 C547,557 542,563 539.2,570.8 Z" fill="#fff"/>
<path d="M539.2,570.8 L538.6,577"/>
<path d="M539,575 C544,576 548,578 550,580.5" stroke-width="2.43"/>
<path d="M542,583.5 L549,584 L555,580.5 L555.4,588.5 L549.5,591.5 L542.5,588.5 Z" fill="#fff"/>
<path d="M549,584 L549.5,591.5"/>
</g>
<g transform="translate(317.2,914.1) scale(1.0)" stroke="#000" stroke-width="2.16" fill="#fff" stroke-linejoin="round">
<ellipse cx="20.5" cy="5.5" rx="8.2" ry="17.2" transform="rotate(-8 20.5 5.5)"/>
<path d="M14,-10 L18,-9 L16,21 L12,20 Z" fill="#fff" stroke="none"/>
<path d="M-20,-4 C-19,-8 -14,-10 -8,-9 L14,-9 C17,-6 18,0 18,6 C18,14 14,20 8,23 L-4,27 C-10,26 -16,18 -20,10 Z"/>
<ellipse cx="8.5" cy="10" rx="8" ry="11.5" transform="rotate(-25 8.5 10)" fill="#000"/>
<path d="M2.0,1.5 l9,5" stroke="#fff" stroke-width="1.49"/>
<path d="M2.3,4.8 l9,5" stroke="#fff" stroke-width="1.49"/>
<path d="M2.6,8.1 l9,5" stroke="#fff" stroke-width="1.49"/>
<path d="M2.9,11.399999999999999 l9,5" stroke="#fff" stroke-width="1.49"/>
<path d="M3.2,14.7 l9,5" stroke="#fff" stroke-width="1.49"/>
<path d="M3.5,18.0 l9,5" stroke="#fff" stroke-width="1.49"/>
<path d="M-18.2,-15.7 L-18.2,-8.8 A17.5,10.2 0 0 0 16.8,-8.8 L16.8,-15.7 Z"/>
<ellipse cx="-0.7" cy="-15.7" rx="17.5" ry="10.2"/>
<ellipse cx="-0.7" cy="-15" rx="13.5" ry="7" fill="#000" stroke="none"/>
<ellipse cx="-0.6" cy="-18.3" rx="9.8" ry="5.4" fill="#fff" stroke="none"/>
<path d="M-5,-12.2 Q-0.6,-10.5 4,-12.2" stroke="#fff" stroke-width="1.62" fill="none"/>
<path d="M1,-20.4 A2.3,1.7 0 1 0 1.2,-17.2" fill="none" stroke-width="1.62"/>
<g transform="translate(-14,22) rotate(38)">
<path d="M-16,-5 L-16,0 A16,9 0 0 0 16,0 L16,-5 Z"/>
<ellipse cx="0" cy="-5" rx="16" ry="9"/>
<ellipse cx="0" cy="1.5" rx="16" ry="8.5" fill="#000"/>
<ellipse cx="0.5" cy="2" rx="11" ry="5.2" fill="none" stroke="#fff" stroke-width="1.62"/>
<path d="M-6,1 L6,3.5" stroke="#fff" stroke-width="1.22"/>
<path d="M-14,-1 L-12.5,2" stroke="#fff" stroke-width="1.35"/>
<path d="M12,5 L14,3" stroke="#fff" stroke-width="1.35"/>
</g>
</g>
<g transform="translate(117.8,805.35) rotate(29.5)" stroke-width="2.03" stroke-linejoin="round" stroke-linecap="round">
<path d="M2,-13.5 L28,-13.5 L28,13.5 L2,13.5 Z" fill="#000" stroke="#000"/>
<path d="M5,-10 L27,-10" stroke="#fff" fill="none" stroke-width="0.74"/>
<path d="M5,-6 L27,-6" stroke="#fff" fill="none" stroke-width="0.74"/>
<path d="M5,-2 L27,-2" stroke="#fff" fill="none" stroke-width="0.74"/>
<path d="M5,2 L27,2" stroke="#fff" fill="none" stroke-width="0.74"/>
<path d="M5,6 L27,6" stroke="#fff" fill="none" stroke-width="0.74"/>
<path d="M5,10 L27,10" stroke="#fff" fill="none" stroke-width="0.74"/>
<ellipse cx="2" cy="0" rx="5.67" ry="13.5" fill="#000" stroke="#000"/>
<ellipse cx="2" cy="0" rx="4.62" ry="11" fill="none" stroke="#fff" stroke-width="1.62" stroke-dasharray="1.2 2.6"/>
<path d="M28,-16.5A9.57,16.5 0 0 0 28,16.5L50,16.5A9.57,16.5 0 0 0 50,-16.5Z" fill="#fff" stroke="#000"/>
<path d="M50,-16.5A9.57,16.5 0 0 0 50,16.5L50,22A12.76,22 0 0 0 50,-22Z" fill="#fff" stroke="#000"/>
<path d="M50,-22A12.76,22 0 0 0 50,22L55,22A12.76,22 0 0 0 55,-22Z" fill="#fff" stroke="#000"/>
<path d="M55,-22A12.76,22 0 0 0 55,22L55,24A13.92,24 0 0 0 55,-24Z" fill="#fff" stroke="#000"/>
<path d="M57,-26A15.08,26 0 0 0 57,26L59,31A17.98,31 0 0 0 59,-31Z" fill="#fff" stroke="#000"/>
<path d="M59,-31A17.98,31 0 0 0 59,31L63,35A20.3,35 0 0 0 63,-35Z" fill="#fff" stroke="#000"/>
<path d="M63,-35A20.3,35 0 0 0 63,35L69,36.5A21.17,36.5 0 0 0 69,-36.5Z" fill="#fff" stroke="#000"/>
<path d="M69,-36.5A21.17,36.5 0 0 0 69,36.5L127,36.5A21.17,36.5 0 0 0 127,-36.5Z" fill="#fff" stroke="#000"/>
<path d="M70,-30 L76,-27" stroke="#000" fill="none" stroke-width="1.62"/>
<path d="M66,24 L72,27" stroke="#000" fill="none" stroke-width="1.62"/>
<path d="M92,-8 L99,-5" stroke="#000" fill="none" stroke-width="1.62"/>
<path d="M84,26 L92,29" stroke="#000" fill="none" stroke-width="1.62"/>
<path d="M100,-36.5 L127,-36.5 L127,-30 L104,-30 Z" fill="#fff" stroke="#000" stroke-width="1.76"/>
<path d="M103,30 L116,30 L116,36.5 L103,36.5 Z" fill="#fff" stroke="#000" stroke-width="1.76"/>
<ellipse cx="127" cy="0" rx="21.17" ry="36.5" fill="#fff" stroke="#000" stroke-width="2.03" />
<ellipse cx="127" cy="0" rx="18.56" ry="32" fill="#fff" stroke="#000" stroke-width="1.76" />
<clipPath id="hk"><ellipse cx="127" cy="0" rx="18.56" ry="32"/></clipPath>
<g clip-path="url(#hk)"><path d="M105,-18 L140,-22 M100,12 L140,16" stroke="#000" stroke-width="2.03" fill="none"/></g>
<path d="M131.8,-30.91 A18.56,32 0 0 1 142.2,-18.35" fill="none" stroke="#000" stroke-width="4.05"/>
<path d="M141.22,20.57 A18.56,32 0 0 1 130.22,31.51" fill="none" stroke="#000" stroke-width="4.05"/>
</g>
<g transform="translate(640,1105.75) rotate(30)" stroke-width="1.89" stroke-linejoin="round" stroke-linecap="round">
<path d="M-56,-12A6.96,12 0 0 0 -56,12L-37,12A6.96,12 0 0 0 -37,-12Z" fill="#fff" stroke="#000"/>
<path d="M-56,-12 L-37,-12 L-37,12 L-56,12Z" fill="#000"/>
<path d="M-54,-9 L-39,-9" stroke="#fff" fill="none" stroke-width="0.74"/>
<path d="M-54,-5 L-39,-5" stroke="#fff" fill="none" stroke-width="0.74"/>
<path d="M-54,-1 L-39,-1" stroke="#fff" fill="none" stroke-width="0.74"/>
<path d="M-54,3 L-39,3" stroke="#fff" fill="none" stroke-width="0.74"/>
<path d="M-54,7 L-39,7" stroke="#fff" fill="none" stroke-width="0.74"/>
<ellipse cx="-56" cy="0" rx="6.96" ry="12" fill="#000" stroke="#000"/>
<path d="M-37,-13.5A7.83,13.5 0 0 0 -37,13.5L-22,13.5A7.83,13.5 0 0 0 -22,-13.5Z" fill="#fff" stroke="#000"/>
<path d="M-22,-13.5A7.83,13.5 0 0 0 -22,13.5L-20,11.5A6.67,11.5 0 0 0 -20,-11.5Z" fill="#fff" stroke="#000"/>
<path d="M-20,-11.5A6.67,11.5 0 0 0 -20,11.5L35,11.5A6.67,11.5 0 0 0 35,-11.5Z" fill="#fff" stroke="#000"/>
<path d="M-33.68,-12.69 A7.83,13.5 0 0 0 -33.68,12.69" fill="none" stroke="#000" stroke-width="1.49"/>
<path d="M35,-13A7.54,13 0 0 0 35,13L42,13A7.54,13 0 0 0 42,-13Z" fill="#fff" stroke="#000"/>
<path d="M42,-13A7.54,13 0 0 0 42,13L43,12A6.96,12 0 0 0 43,-12Z" fill="#fff" stroke="#000"/>
<path d="M43,-12A6.96,12 0 0 0 43,12L45,13.5A7.83,13.5 0 0 0 45,-13.5Z" fill="#fff" stroke="#000"/>
<path d="M45,-13.5A7.83,13.5 0 0 0 45,13.5L48,13.5A7.83,13.5 0 0 0 48,-13.5Z" fill="#fff" stroke="#000"/>
<path d="M48,-13.5A7.83,13.5 0 0 0 48,13.5L49,12A6.96,12 0 0 0 49,-12Z" fill="#fff" stroke="#000"/>
<path d="M49,-12A6.96,12 0 0 0 49,12L51,13.5A7.83,13.5 0 0 0 51,-13.5Z" fill="#fff" stroke="#000"/>
<path d="M51,-13.5A7.83,13.5 0 0 0 51,13.5L55,13.5A7.83,13.5 0 0 0 55,-13.5Z" fill="#fff" stroke="#000"/>
<path d="M55,-13.5A7.83,13.5 0 0 0 55,13.5L57,12A6.96,12 0 0 0 57,-12Z" fill="#fff" stroke="#000"/>
<path d="M57,-12A6.96,12 0 0 0 57,12L68,12A6.96,12 0 0 0 68,-12Z" fill="#fff" stroke="#000"/>
<ellipse cx="69.5" cy="0" rx="10.73" ry="18.5" fill="none" stroke="#000" stroke-width="2.70" />
<path d="M68,-12A6.96,12 0 0 0 68,12L78,12A6.96,12 0 0 0 78,-12Z" fill="#fff" stroke="#000"/>
<path d="M68.44,-18.43 A10.73,18.5 0 1 0 69.36,18.22" fill="none" stroke="#fff" stroke-width="6.75"/>
<path d="M68.44,-18.43 A10.73,18.5 0 1 0 69.36,18.22" fill="none" stroke="#000" stroke-width="4.59"/>
<path d="M52,10 L59,10 L60,21 L53,21Z" fill="#fff" stroke="#000" stroke-width="1.62"/>
<path d="M54,13 A2,2 0 1 0 57,15" fill="none" stroke="#000" stroke-width="1.49"/>
<path d="M78,-13A7.54,13 0 0 0 78,13L84,13A7.54,13 0 0 0 84,-13Z" fill="#fff" stroke="#000"/>
<path d="M84,-13A7.54,13 0 0 0 84,13L86,16A9.28,16 0 0 0 86,-16Z" fill="#fff" stroke="#000"/>
<path d="M86,-16A9.28,16 0 0 0 86,16L94,22A12.76,22 0 0 0 94,-22Z" fill="#fff" stroke="#000"/>
<path d="M94,-22A12.76,22 0 0 0 94,22L97,23.95A13.89,23.95 0 0 0 97,-23.95Z" fill="#fff" stroke="#000"/>
<path d="M97,-23.95A13.89,23.95 0 0 0 97,23.95L106,29.42A17.06,29.42 0 0 0 106,-29.42Z" fill="#fff" stroke="#000"/>
<path d="M106,-29.42A17.06,29.42 0 0 0 106,29.42L109,30.79A17.86,30.79 0 0 0 109,-30.79Z" fill="#fff" stroke="#000"/>
<path d="M109,-30.79A17.86,30.79 0 0 0 109,30.79L119,34.64A20.09,34.64 0 0 0 119,-34.64Z" fill="#fff" stroke="#000"/>
<path d="M119,-34.64A20.09,34.64 0 0 0 119,34.64L122,35.29A20.47,35.29 0 0 0 122,-35.29Z" fill="#fff" stroke="#000"/>
<path d="M122,-35.29A20.47,35.29 0 0 0 122,35.29L134,37.3A21.63,37.3 0 0 0 134,-37.3Z" fill="#fff" stroke="#000"/>
<path d="M134,-37.3A21.63,37.3 0 0 0 134,37.3L137,37.52A21.76,37.52 0 0 0 137,-37.52Z" fill="#fff" stroke="#000"/>
<path d="M137,-37.52A21.76,37.52 0 0 0 137,37.52L151,38.53A22.35,38.53 0 0 0 151,-38.53Z" fill="#fff" stroke="#000"/>
<path d="M151,-38.53A22.35,38.53 0 0 0 151,38.53L154,38.61A22.39,38.61 0 0 0 154,-38.61Z" fill="#fff" stroke="#000"/>
<path d="M154,-38.61A22.39,38.61 0 0 0 154,38.61L168,39A22.62,39 0 0 0 168,-39Z" fill="#fff" stroke="#000"/>
<ellipse cx="168" cy="0" rx="20.59" ry="35.5" fill="#fff" stroke="#000" stroke-width="1.89" />
<clipPath id="bq"><ellipse cx="168" cy="0" rx="20.59" ry="35.5"/></clipPath>
<g clip-path="url(#bq)"><path d="M172.04,-33.36 A20.59,35.5 0 0 1 161.42,34.96" fill="none" stroke="#000" stroke-width="1.35"/><path d="M166.84,-32.42 A20.01,34.5 0 0 1 156.53,33.98" fill="none" stroke="#000" stroke-width="1.35"/><path d="M161.65,-31.48 A19.43,33.5 0 0 1 151.63,32.99" fill="none" stroke="#000" stroke-width="1.35"/><path d="M156.45,-30.54 A18.85,32.5 0 0 1 146.73,32.01" fill="none" stroke="#000" stroke-width="1.35"/><path d="M151.25,-29.6 A18.27,31.5 0 0 1 141.83,31.02" fill="none" stroke="#000" stroke-width="1.35"/><path d="M146.05,-28.66 A17.69,30.5 0 0 1 136.93,30.04" fill="none" stroke="#000" stroke-width="1.35"/></g>
<clipPath id="bq2"><ellipse cx="168" cy="0" rx="20.59" ry="35.5"/><rect x="168" y="-60" width="200" height="120"/></clipPath>
<g clip-path="url(#bq2)"><path d="M120,-10.5 L290,-10.5 L290,10.5 L120,10.5 Z" fill="#fff" stroke="#000"/></g>
<path d="M225,-10.5A6.09,10.5 0 0 0 225,10.5L290,10.5A6.09,10.5 0 0 0 290,-10.5Z" fill="#fff" stroke="#000"/>
</g><g transform="translate(587,794.3)" fill="none" stroke="#000" stroke-width="2.03" stroke-linejoin="round" stroke-linecap="round">
<path d="M264.7,386.5 C272,385 279,387 284,392 C290,398 292,405 291.8,413.6"/>
<path d="M272.2,389.3 C278,392 281,400 282.5,419.2"/>
<path d="M264.7,386.5 C256,389 240,400 233,412.7 C226,424 222,440 224.5,450 C227,462 238,469 249.8,469.6 C254,469.5 257,468 259.1,465.9" stroke="#fff" stroke-width="6.08"/>
<path d="M272.2,389.3 C267,389.5 262,390 257,393 C249,398 240,410 235.8,420.1 C232,430 231,445 233,454.7 C236,462 244,466 251.7,464.9 C255,464 258,461 260.1,457.5" stroke="#fff" stroke-width="6.08"/>
<path d="M264.7,386.5 C256,389 240,400 233,412.7 C226,424 222,440 224.5,450 C227,462 238,469 249.8,469.6 C254,469.5 257,468 259.1,465.9"/>
<path d="M272.2,389.3 C267,389.5 262,390 257,393 C249,398 240,410 235.8,420.1 C232,430 231,445 233,454.7 C236,462 244,466 251.7,464.9 C255,464 258,461 260.1,457.5" stroke-width="2.70"/>
<path d="M264.7,386.5 L272.2,389.3"/>
<path d="M228.5,416.5 L236.5,420 L233.5,441 L225.5,438 Z" fill="#fff"/>
<path d="M216,439 C212.5,440.5 211.5,452 213.5,457 L221,461 C225.5,459.5 227.5,452 226.5,446 L223,439 Z" fill="#fff"/>
<path d="M218.5,446 A2.5,2.5 0 1 0 222,449" stroke-width="1.76"/>
</g><g transform="translate(640,1105.75) rotate(30)" stroke-width="1.89" stroke-linejoin="round" stroke-linecap="round">
<path d="M288,-33A19.14,33 0 0 0 288,33L290,36A20.88,36 0 0 0 290,-36Z" fill="#fff" stroke="#000"/>
<path d="M290,-36A20.88,36 0 0 0 290,36L296,36A20.88,36 0 0 0 296,-36Z" fill="#fff" stroke="#000"/>
<path d="M296,-36A20.88,36 0 0 0 296,36L297,34A19.72,34 0 0 0 297,-34Z" fill="#fff" stroke="#000"/>
<path d="M297,-34A19.72,34 0 0 0 297,34L299,36A20.88,36 0 0 0 299,-36Z" fill="#fff" stroke="#000"/>
<path d="M299,-36A20.88,36 0 0 0 299,36L312,36A20.88,36 0 0 0 312,-36Z" fill="#fff" stroke="#000"/>
<path d="M312,-36A20.88,36 0 0 0 312,36L313,34A19.72,34 0 0 0 313,-34Z" fill="#fff" stroke="#000"/>
<path d="M313,-34A19.72,34 0 0 0 313,34L315,36A20.88,36 0 0 0 315,-36Z" fill="#fff" stroke="#000"/>
<path d="M315,-36A20.88,36 0 0 0 315,36L333,36A20.88,36 0 0 0 333,-36Z" fill="#fff" stroke="#000"/>
<ellipse cx="333" cy="0" rx="19.14" ry="33" fill="none" stroke="#000" stroke-width="1.62" />
<path d="M333,-22A12.76,22 0 0 0 333,22L336,22A12.76,22 0 0 0 336,-22Z" fill="#fff" stroke="#000"/>
<path d="M336,-22A12.76,22 0 0 0 336,22L338,20A11.6,20 0 0 0 338,-20Z" fill="#fff" stroke="#000"/>
<path d="M338,-20A11.6,20 0 0 0 338,20L340,20A11.6,20 0 0 0 340,-20Z" fill="#fff" stroke="#000"/>
<path d="M335.62,-25.61 A15.08,26 0 0 1 335.62,25.61" fill="none" stroke="#000" stroke-width="2.97"/>
<path d="M340,-12.5A7.25,12.5 0 0 0 340,12.5L378,12.5A7.25,12.5 0 0 0 378,-12.5Z" fill="#fff" stroke="#000"/>
<path d="M341,3 L378,3 L378,12.5 L341,12.5Z" fill="#000"/>
<path d="M341,-10 L377,-10" stroke="#000" fill="none" stroke-width="1.35"/>
<path d="M341,-7 L377,-7" stroke="#000" fill="none" stroke-width="1.35"/>
<path d="M341,-4 L377,-4" stroke="#000" fill="none" stroke-width="1.35"/>
<path d="M341,-1 L377,-1" stroke="#000" fill="none" stroke-width="1.35"/>
<path d="M378,-9.5A5.51,9.5 0 0 0 378,9.5L405,9.5A5.51,9.5 0 0 0 405,-9.5Z" fill="#fff" stroke="#000"/>
<path d="M380,0 L404,0 L404,9.5 L380,9.5Z" fill="#000"/>
<path d="M381.04,-9.36 A5.51,9.5 0 0 0 381.04,9.36" fill="none" stroke="#000" stroke-width="1.35"/>
<path d="M383.54,-9.36 A5.51,9.5 0 0 0 383.54,9.36" fill="none" stroke="#000" stroke-width="1.35"/>
<path d="M386.04,-9.36 A5.51,9.5 0 0 0 386.04,9.36" fill="none" stroke="#000" stroke-width="1.35"/>
<path d="M388.54,-9.36 A5.51,9.5 0 0 0 388.54,9.36" fill="none" stroke="#000" stroke-width="1.35"/>
<path d="M391.04,-9.36 A5.51,9.5 0 0 0 391.04,9.36" fill="none" stroke="#000" stroke-width="1.35"/>
<path d="M393.54,-9.36 A5.51,9.5 0 0 0 393.54,9.36" fill="none" stroke="#000" stroke-width="1.35"/>
<path d="M396.04,-9.36 A5.51,9.5 0 0 0 396.04,9.36" fill="none" stroke="#000" stroke-width="1.35"/>
<path d="M398.54,-9.36 A5.51,9.5 0 0 0 398.54,9.36" fill="none" stroke="#000" stroke-width="1.35"/>
<ellipse cx="405" cy="0" rx="5.51" ry="9.5" fill="#fff" stroke="#000" stroke-width="2.16" />
<path d="M407.5,-2.3 A2,3 0 1 0 407.5,2.3" fill="none" stroke="#000" stroke-width="1.62"/>
</g><path d="M110,1376.4 L126.5,1350.6 L129,1352 L129.6,1354 L159.1,1337.2 L162.2,1338.8 L162.2,1360.6 L129.6,1379.2 L128.5,1385.4 Z" fill="#000" stroke="#000" stroke-width="1.08" stroke-linejoin="round"/>
<path d="M112.5,1375 L126.3,1353.5" stroke="#fff" stroke-width="0.94" fill="none"/>
<path d="M130.3,1356.8 L159,1340.3" stroke="#fff" stroke-width="0.94" fill="none"/>
<text transform="translate(129.2,1376.5) skewY(-30)" font-family="Liberation Sans" font-weight="bold" font-size="17.5" fill="#fff" textLength="31" lengthAdjust="spacingAndGlyphs">FWD</text>
</svg>
<div class="ft" style="top:1577px">AZH412 E22 410D</div>
<div class="ft" style="top:1610px">FRONT DRIVE SHAFT (4)</div>
</body></html>
